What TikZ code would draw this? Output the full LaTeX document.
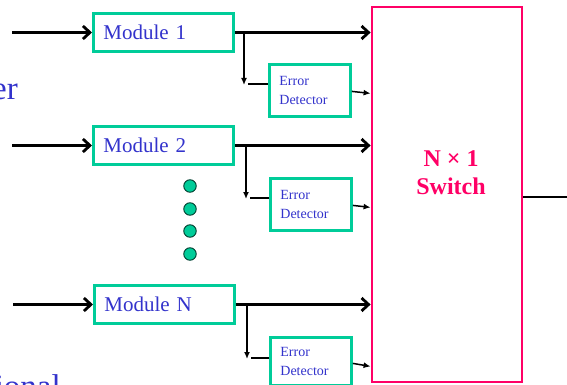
\documentclass[tikz,border=0pt]{standalone}
\usepackage{fontspec}
\setmainfont{Liberation Serif}
\usetikzlibrary{arrows.meta,calc}
\definecolor{modgreen}{RGB}{0,204,153}
\definecolor{txtblue}{RGB}{51,51,204}
\definecolor{swpink}{RGB}{255,0,102}
\definecolor{dotedge}{RGB}{0,60,45}
\begin{document}
\begin{tikzpicture}[x=1pt,y=-1pt,
  modbox/.style={draw=modgreen, line width=2.8pt, text=txtblue,
    font=\fontsize{21}{25}\selectfont, text width=120pt, align=left,
    inner xsep=10pt, inner ysep=0pt, minimum height=38pt, anchor=west},
  edbox/.style={draw=modgreen, line width=2.8pt, text=txtblue,
    font=\fontsize{14}{19}\selectfont, text width=61pt, align=left,
    inner xsep=10pt, inner ysep=0pt, minimum height=52pt, anchor=north west},
  bigarrow/.style={line width=2.8pt, -{Straight Barb[length=7pt,width=13pt,line width=2.8pt]}},
  thinarrow/.style={line width=1.5pt, -{Latex[length=7pt,width=6pt]}},
  stub/.style={line width=2.4pt},
  dotnode/.style={circle, fill=modgreen, draw=dotedge, line width=0.9pt, minimum size=12.5pt, inner sep=0pt},
  bgtext/.style={text=txtblue, font=\fontsize{33}{38}\selectfont, inner sep=0pt, anchor=base east}
]
\clip (0,0) rectangle (567,385);
\fill[white] (0,0) rectangle (567,385);

% background slide text fragments
\node[bgtext] (er) at (18,100) {er};
\node[bgtext] (ional) at (61,397) {ional};

% modules
\node[modbox] (m1) at (92,32.5) {Module 1};
\node[modbox] (m2) at (92,145.5) {Module 2};
\node[modbox] (mN) at (93,304.5) {Module N};

% error detectors
\node[edbox] (e1) at (268,63) {Error\\Detector};
\node[edbox] (e2) at (269,177) {Error\\Detector};
\node[edbox, minimum height=48pt] (eN) at (269,336) {Error\\Detector};

% switch
\node[draw=swpink, line width=2.8pt, minimum width=150pt, minimum height=375pt, inner sep=0pt] (sw) at (447,194.5) {};
\node[text=swpink, font=\bfseries\fontsize{24}{28}\selectfont, align=center] (swl) at (451,173) {N × 1\\Switch};

% dots
\node[dotnode] (d1) at (190,186) {};
\node[dotnode] (d2) at (190,209) {};
\node[dotnode] (d3) at (190,231) {};
\node[dotnode] (d4) at (190,254) {};

% inputs
\coordinate (in1) at (12,32.5);
\coordinate (in2) at (12,145.5);
\coordinate (inN) at (13,304.5);
\draw[bigarrow] (in1) -- (m1.west);
\draw[bigarrow] (in2) -- (m2.west);
\draw[bigarrow] (inN) -- (mN.west);

% module outputs to switch
\draw[bigarrow] (m1.east) -- (sw.west |- m1.east);
\draw[bigarrow] (m2.east) -- (sw.west |- m2.east);
\draw[bigarrow] (mN.east) -- (sw.west |- mN.east);

% branches to error detectors
\coordinate (b1) at (244,32.5);
\coordinate (t1) at (244,85);
\coordinate (s1) at (248,84);
\draw[thinarrow] (b1) -- (t1);
\draw[stub] (e1.west |- s1) -- (s1);

\coordinate (b2) at (246,145.5);
\coordinate (t2) at (246,199);
\coordinate (s2) at (250,198);
\draw[thinarrow] (b2) -- (t2);
\draw[stub] (e2.west |- s2) -- (s2);

\coordinate (bN) at (247,304.5);
\coordinate (tN) at (247,359);
\coordinate (sN) at (251,358);
\draw[thinarrow] (bN) -- (tN);
\draw[stub] (eN.west |- sN) -- (sN);

% detectors to switch
\draw[thinarrow] ($(e1.east)+(0,1)$) -- ($(sw.west |- e1.east)+(0,3)$);
\draw[thinarrow] ($(e2.east)+(0,1)$) -- ($(sw.west |- e2.east)+(0,3)$);
\draw[thinarrow] ($(eN.east)+(0,2)$) -- ($(sw.west |- eN.east)+(0,5)$);

% output
\coordinate (out) at (567,197);
\draw[line width=2.8pt] (sw.east |- out) -- (out);
\end{tikzpicture}
\end{document}
